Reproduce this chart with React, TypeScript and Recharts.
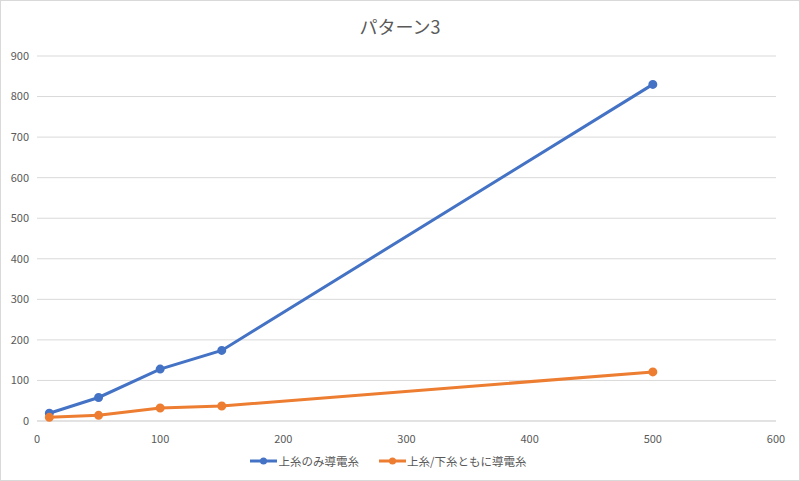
import {
  LineChart,
  Line,
  XAxis,
  YAxis,
  CartesianGrid,
  Legend,
} from "recharts";

const xValues = [10, 50, 100, 150, 500];
const upperOnly = [19, 58, 128, 174, 830];
const upperLower = [9, 14, 32, 37, 121];
const xTicks = [0, 100, 200, 300, 400, 500, 600];
const yTicks = [0, 100, 200, 300, 400, 500, 600, 700, 800, 900];
const seriesNames = ["上糸のみ導電糸", "上糸/下糸ともに導電糸"];
const seriesColors = ["#4472C4", "#ED7D31"];

const data = xValues.map((x, i) => ({
  x,
  upperOnly: upperOnly[i],
  upperLower: upperLower[i],
}));

const font = "'Noto Sans CJK JP', 'Noto Sans', sans-serif";

const LegendContent = () => (
  <div
    style={{
      display: "flex",
      justifyContent: "center",
      gap: 20,
      fontSize: 11.5,
      color: "#595959",
      height: 18,
      alignItems: "center",
    }}
  >
    {seriesNames.map((name, i) => (
      <div key={name} style={{ display: "flex", alignItems: "center", gap: 1 }}>
        <svg width={27} height={10}>
          <line x1={0} y1={5} x2={27} y2={5} stroke={seriesColors[i]} strokeWidth={3} />
          <circle cx={13.5} cy={5} r={3.5} fill={seriesColors[i]} />
        </svg>
        <span>{name}</span>
      </div>
    ))}
  </div>
);

const App = () => {
  return (
    <div
      style={{
        position: "absolute",
        left: 0,
        top: 0,
        width: 800,
        height: 481,
        boxSizing: "border-box",
        border: "1px solid #d9d9d9",
        background: "#fff",
        fontFamily: font,
      }}
    >
      <div
        style={{
          position: "absolute",
          top: 12,
          width: "100%",
          textAlign: "center",
          fontSize: 18,
          color: "#595959",
        }}
      >
        パターン3
      </div>
      <LineChart
        width={798}
        height={479}
        data={data}
        margin={{ top: 55, right: 23, left: 0, bottom: 10 }}
        style={{ position: "absolute", left: 0, top: 0 }}
      >
        <CartesianGrid vertical={false} stroke="#d9d9d9" />
        <XAxis
          type="number"
          dataKey="x"
          domain={[0, 600]}
          ticks={xTicks}
          axisLine={{ stroke: "#d9d9d9" }}
          tickLine={false}
          tick={{ fill: "#595959", fontSize: 11, dy: 6 }}
          height={31}
        />
        <YAxis
          domain={[0, 900]}
          ticks={yTicks}
          axisLine={false}
          tickLine={false}
          tick={{ fill: "#595959", fontSize: 11 }}
          width={36}
        />
        <Legend verticalAlign="bottom" content={<LegendContent />} />
        <Line
          name={seriesNames[0]}
          dataKey="upperOnly"
          stroke={seriesColors[0]}
          strokeWidth={3}
          dot={{ r: 3, fill: seriesColors[0], stroke: seriesColors[0] }}
          isAnimationActive={false}
        />
        <Line
          name={seriesNames[1]}
          dataKey="upperLower"
          stroke={seriesColors[1]}
          strokeWidth={3}
          dot={{ r: 3, fill: seriesColors[1], stroke: seriesColors[1] }}
          isAnimationActive={false}
        />
      </LineChart>
    </div>
  );
};

export default App;
